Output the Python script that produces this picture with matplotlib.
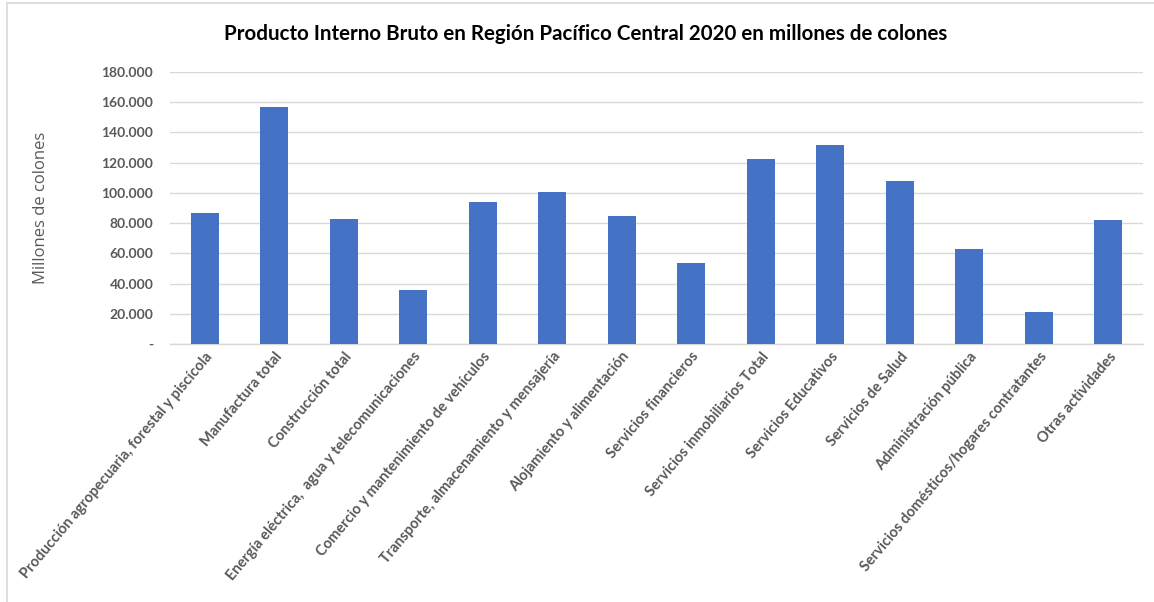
import matplotlib.pyplot as plt
import matplotlib.ticker as mticker
from matplotlib.lines import Line2D
import numpy as np

# ── Data ─────────────────────────────────────────────────────────────────────
categories = [
    "Producción agropecuaria, forestal y piscícola",
    "Manufactura total",
    "Construcción total",
    "Energía eléctrica,  agua y telecomunicaciones",
    "Comercio y mantenimiento de vehículos",
    "Transporte, almacenamiento y mensajería",
    "Alojamiento y alimentación",
    "Servicios financieros",
    "Servicios inmobiliarios Total",
    "Servicios Educativos",
    "Servicios de Salud",
    "Administración pública",
    "Servicios domésticos/hogares contratantes",
    "Otras actividades",
]
values = [86800, 157000, 82700, 35800, 94000, 100700, 84800,
          53600, 122600, 131900, 107800, 62900, 21200, 82000]

TITLE = "Producto Interno Bruto en Región Pacífico Central 2020 en millones de colones"
YLABEL = "Millones de colones"

BAR_COLOR = "#4472C4"
TEXT_GRAY = "#595959"
GRID_GRAY = "#D9D9D9"

# ── Plot ─────────────────────────────────────────────────────────────────────
fig = plt.figure(figsize=(11.54, 6.02), dpi=100)
ax = fig.add_axes([170 / 1154, 1 - 344 / 602, (1143 - 170) / 1154, (344 - 72) / 602])

x = np.arange(len(categories))
ax.bar(x, values, width=0.4, color=BAR_COLOR, zorder=3)

ax.set_xlim(-0.5, len(categories) - 0.5)
ax.set_ylim(0, 180000)
ax.yaxis.set_major_locator(mticker.MultipleLocator(20000))


def fmt(v, pos):
    if v == 0:
        return "-"
    return f"{int(v):,}".replace(",", ".")


ax.yaxis.set_major_formatter(mticker.FuncFormatter(fmt))
ax.yaxis.grid(True, color=GRID_GRAY, linewidth=1.0, zorder=0)
ax.set_axisbelow(True)

for s in ["top", "right", "left"]:
    ax.spines[s].set_visible(False)
ax.spines["bottom"].set_color(GRID_GRAY)
ax.spines["bottom"].set_linewidth(1.0)

ax.tick_params(axis="y", length=0, pad=12, labelsize=10, labelcolor=TEXT_GRAY)
ax.tick_params(axis="x", length=0, pad=4)
for lab in ax.get_yticklabels():
    lab.set_fontfamily("Lato")
    lab.set_fontweight("bold")

ax.set_xticks(x)
ax.set_xticklabels(categories, rotation=50, ha="right", rotation_mode="anchor",
                   fontsize=10.5, fontfamily="Lato", fontweight="bold",
                   color=TEXT_GRAY)

ax.set_ylabel(YLABEL, fontsize=12, fontfamily="Open Sans", color=TEXT_GRAY,
              labelpad=0)
ax.yaxis.set_label_coords(-121 / 973, 0.5)

fig.text(586 / 1154, 1 - 34 / 602, TITLE, ha="center", va="center",
         fontsize=14.8, fontfamily="Lato", fontweight="bold", color="black")

# chart area border (top and left visible in the reference)
fig.add_artist(Line2D([7 / 1154, 1], [1 - 3 / 602, 1 - 3 / 602],
                      transform=fig.transFigure, color=GRID_GRAY, linewidth=1.2))
fig.add_artist(Line2D([7 / 1154, 7 / 1154], [0, 1 - 3 / 602],
                      transform=fig.transFigure, color=GRID_GRAY, linewidth=1.2))

fig.savefig("out.png", dpi=100, facecolor="white")
